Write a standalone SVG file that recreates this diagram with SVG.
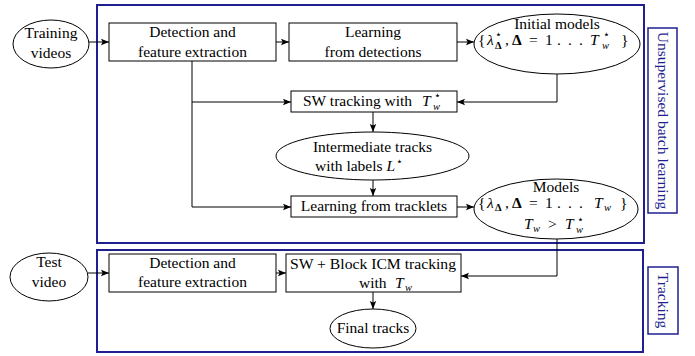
<svg xmlns="http://www.w3.org/2000/svg" width="695" height="356" viewBox="0 0 695 356">
<defs>
<marker id="ah" viewBox="0 0 10 10" refX="10" refY="5" markerWidth="8" markerHeight="8" markerUnits="userSpaceOnUse" orient="auto">
<path d="M0,1 L10,5 L0,9 L2,5 Z" fill="#000"/>
</marker>
<style>
.t{font-family:"Liberation Serif","Times New Roman",serif;font-size:15.5px;fill:#000}
.c{text-anchor:middle}
.i{font-style:italic}
.b{font-weight:bold}
.s{font-size:10.5px}
.st{font-family:"DejaVu Sans","Liberation Serif",sans-serif;font-size:11px;font-style:normal}
.node{fill:#fff;stroke:#000;stroke-width:1}
.frame{fill:none;stroke:#1f1f8f;stroke-width:2}
.lab{fill:#fff;stroke:#1f1f8f;stroke-width:1.5}
.labt{font-family:"Liberation Serif","Times New Roman",serif;font-size:15.5px;fill:#1f1f8f;text-anchor:middle}
.e{fill:none;stroke:#000;stroke-width:1;marker-end:url(#ah)}
</style>
</defs>
<rect width="695" height="356" fill="#fff"/>

<g id="frames">
<rect class="frame" x="97" y="5" width="547" height="238"/>
<rect class="frame" x="97" y="250" width="546" height="102"/>
</g>

<g id="label-unsupervised">
<rect class="lab" x="648" y="28" width="29" height="185"/>
<text class="labt" transform="translate(662.5,120.5) rotate(90)" y="5">Unsupervised batch learning</text>
</g>
<g id="label-tracking">
<rect class="lab" x="648" y="267" width="30" height="67"/>
<text class="labt" transform="translate(663,300.5) rotate(90)" y="5">Tracking</text>
</g>

<g id="connectors">
<path class="e" d="M89,42 H109"/>
<path class="e" d="M276,42 H289"/>
<path class="e" d="M457,42 H474"/>
<path class="e" d="M557,74 V102 H457"/>
<path fill="none" stroke="#000" d="M192,61 V207"/>
<path class="e" d="M192,102 H291"/>
<path class="e" d="M192,207 H291"/>
<path class="e" d="M373,112 V132"/>
<path class="e" d="M373,180 V196"/>
<path class="e" d="M457,207 H474"/>
<path class="e" d="M557,239 V276 H461"/>
<path class="e" d="M88,273 H109"/>
<path class="e" d="M276,273 H286"/>
<path class="e" d="M373,292 V309"/>
</g>

<g id="training-videos">
<ellipse class="node" cx="51" cy="44" rx="38" ry="24"/>
<text class="t c" x="51" y="38">Training</text>
<text class="t c" x="51" y="58">videos</text>
</g>

<g id="detection1">
<rect class="node" x="109" y="23" width="167" height="38"/>
<text class="t c" x="192.5" y="37">Detection and</text>
<text class="t c" x="192.5" y="57">feature extraction</text>
</g>

<g id="learning-detections">
<rect class="node" x="289" y="23" width="168" height="38"/>
<text class="t c" x="373" y="37">Learning</text>
<text class="t c" x="373" y="57">from detections</text>
</g>

<g id="initial-models">
<ellipse class="node" cx="557" cy="44" rx="83" ry="30"/>
<text class="t c" x="557" y="29">Initial models</text>
<text class="t" x="478" y="45">{<tspan class="i" x="487">λ</tspan><tspan class="st" x="495" y="38">⋆</tspan><tspan class="s b" x="495" y="49">Δ</tspan><tspan x="505" y="45">,</tspan><tspan class="b" x="512">Δ</tspan><tspan x="529">=</tspan><tspan x="545">1</tspan><tspan x="557">.</tspan><tspan x="568">.</tspan><tspan x="579">.</tspan><tspan class="i" x="590">T</tspan><tspan class="st" x="603" y="38">⋆</tspan><tspan class="s i" x="602" y="49">w</tspan><tspan x="621" y="45">}</tspan></text>
</g>

<g id="sw-tracking">
<rect class="node" x="291" y="91" width="166" height="21"/>
<text class="t" x="303" y="106">SW tracking with</text>
<text class="t" x="422" y="106"><tspan class="i">T</tspan><tspan class="st" x="434" y="99">⋆</tspan><tspan class="s i" x="433" y="110">w</tspan></text>
</g>

<g id="intermediate-tracks">
<ellipse class="node" cx="372.5" cy="156" rx="96.5" ry="24"/>
<text class="t c" x="372.5" y="152">Intermediate tracks</text>
<text class="t" x="315" y="171">with labels <tspan class="i">L</tspan><tspan class="st" dx="1" dy="-6">⋆</tspan></text>
</g>

<g id="learning-tracklets">
<rect class="node" x="291" y="196" width="166" height="21"/>
<text class="t c" x="374" y="211">Learning from tracklets</text>
</g>

<g id="models">
<ellipse class="node" cx="556" cy="209" rx="82" ry="30"/>
<text class="t c" x="556" y="192">Models</text>
<text class="t" x="478" y="208">{<tspan class="i" x="487">λ</tspan><tspan class="s b" x="495" y="211">Δ</tspan><tspan x="505" y="208">,</tspan><tspan class="b" x="512">Δ</tspan><tspan x="529">=</tspan><tspan x="545">1</tspan><tspan x="557">.</tspan><tspan x="568">.</tspan><tspan x="579">.</tspan><tspan class="i" x="594">T</tspan><tspan class="s i" x="604" y="211">w</tspan><tspan x="620" y="208">}</tspan></text>
<text class="t" x="524" y="229"><tspan class="i">T</tspan><tspan class="s i" x="533" y="232">w</tspan><tspan x="548" y="229">&gt;</tspan><tspan class="i" x="565">T</tspan><tspan class="st" x="577" y="223">⋆</tspan><tspan class="s i" x="576" y="233">w</tspan></text>
</g>

<g id="test-video">
<ellipse class="node" cx="49" cy="277" rx="39" ry="24"/>
<text class="t c" x="49" y="267">Test</text>
<text class="t c" x="49" y="287">video</text>
</g>

<g id="detection2">
<rect class="node" x="109" y="254" width="167" height="38"/>
<text class="t c" x="192.5" y="268">Detection and</text>
<text class="t c" x="192.5" y="287">feature extraction</text>
</g>

<g id="sw-block-icm">
<rect class="node" x="286" y="254" width="175" height="38"/>
<text class="t" x="290" y="269" textLength="166" lengthAdjust="spacingAndGlyphs">SW + Block ICM tracking</text>
<text class="t" x="359" y="288">with</text>
<text class="t" x="395" y="288"><tspan class="i">T</tspan><tspan class="s i" x="405" y="291">w</tspan></text>
</g>

<g id="final-tracks">
<ellipse class="node" cx="373" cy="328.5" rx="43" ry="19.5"/>
<text class="t c" x="373" y="333">Final tracks</text>
</g>
</svg>
